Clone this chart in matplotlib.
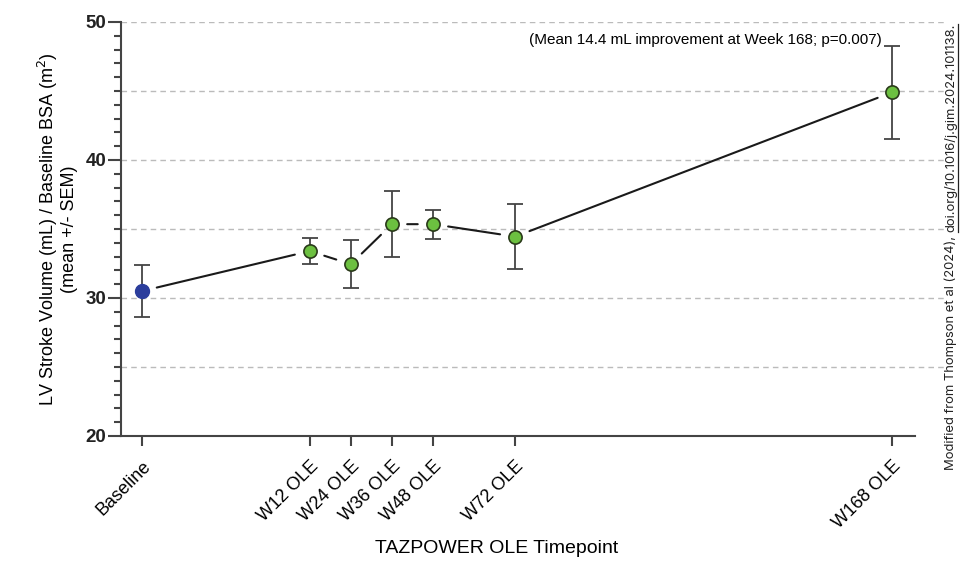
import matplotlib
matplotlib.use("Agg")
import matplotlib.pyplot as plt
from matplotlib.ticker import MultipleLocator
from matplotlib.lines import Line2D

plt.rcParams['font.family'] = ['Liberation Sans', 'DejaVu Sans']

# timepoints (x position in weeks; baseline and W168 placed as in the figure)
labels = ["Baseline", "W12 OLE", "W24 OLE", "W36 OLE", "W48 OLE", "W72 OLE", "W168 OLE"]
xpos = [-37, 12, 24, 36, 48, 72, 182]
means = [30.5, 33.4, 32.45, 35.35, 35.35, 34.45, 44.9]
sem = [1.9, 0.92, 1.75, 2.4, 1.06, 2.33, 3.35]

fig = plt.figure(figsize=(9.63, 5.63), dpi=100)
ax = fig.add_axes([121/963, 1-436/563, (945-121)/963, (436-22)/563])

ax.set_xlim(-43.1, 197.5)
ax.set_ylim(20, 50)

for y in [25, 30, 35, 40, 45, 50]:
    ax.axhline(y, color='#bbbbbb', lw=1, ls=(0, (4, 3)), zorder=0)

# connecting segments with gaps around markers
for i in range(len(xpos) - 1):
    ax.annotate('', xy=(xpos[i+1], means[i+1]), xytext=(xpos[i], means[i]),
                arrowprops=dict(arrowstyle='-', color='#1a1a1a', lw=1.5,
                                shrinkA=11, shrinkB=11))

ax.errorbar(xpos, means, yerr=sem, fmt='none', ecolor='#444444', elinewidth=1.3,
            capsize=6, capthick=1.3, zorder=3)
ax.plot(xpos[0], means[0], 'o', color='#2b3d9c', ms=10, mec='#2b3d9c', zorder=4)
ax.plot(xpos[1:], means[1:], 'o', color='#6cc040', ms=9.5, mec='#2a3a1a', mew=1.2, zorder=4)

for s in ['top', 'right']:
    ax.spines[s].set_visible(False)
for s in ['left', 'bottom']:
    ax.spines[s].set_color('#444444')
    ax.spines[s].set_linewidth(1.5)
ax.spines['bottom'].set_bounds(-43.1, 188.7)

ax.set_yticks([20, 30, 40, 50])
ax.yaxis.set_minor_locator(MultipleLocator(1))
ax.tick_params(axis='y', which='major', length=9.5, width=1.5, color='#444444',
               labelsize=13.5, pad=1)
ax.tick_params(axis='y', which='minor', length=5, width=1.5, color='#444444')
for t in ax.get_yticklabels():
    t.set_fontweight('bold')
    t.set_color('#222222')

ax.set_xticks(xpos)
ax.set_xticklabels(labels, rotation=45, ha='right', rotation_mode='anchor', fontsize=13)
ax.tick_params(axis='x', length=7.5, width=1.5, color='#444444', pad=8)

ax.set_ylabel("LV Stroke Volume (mL) / Baseline BSA (m$^2$)\n(mean +/- SEM)",
              fontsize=13, linespacing=1.1)
ax.yaxis.set_label_coords(-0.052, 0.5)
ax.set_xlabel("TAZPOWER OLE Timepoint", fontsize=14)
ax.xaxis.set_label_coords((497-121)/824, -(540-436)/414)

ax.text(179, 48.7, "(Mean 14.4 mL improvement at Week 168; p=0.007)", ha='right',
        va='center', fontsize=11)

# source note on the right, doi part underlined
fig.canvas.draw()
r = fig.canvas.get_renderer()
t1 = fig.text(951/963, 1-470/563, "Modified from Thompson et al (2024), ", rotation=90,
              ha='center', va='bottom', fontsize=9.4, family='Inter', color='#222222')
bb = t1.get_window_extent(r)
top_y = bb.y1 / fig.bbox.height
t2 = fig.text(951/963, top_y, "doi.org/10.1016/j.gim.2024.101138.", rotation=90,
              ha='center', va='bottom', fontsize=9.4, family='Inter', color='#222222')
bb2 = t2.get_window_extent(r)
ux = bb2.x1 / fig.bbox.width
fig.add_artist(Line2D([ux, ux], [bb2.y0 / fig.bbox.height, bb2.y1 / fig.bbox.height],
                      transform=fig.transFigure, color='#222222', lw=0.9))

fig.savefig("out.png", dpi=100)
